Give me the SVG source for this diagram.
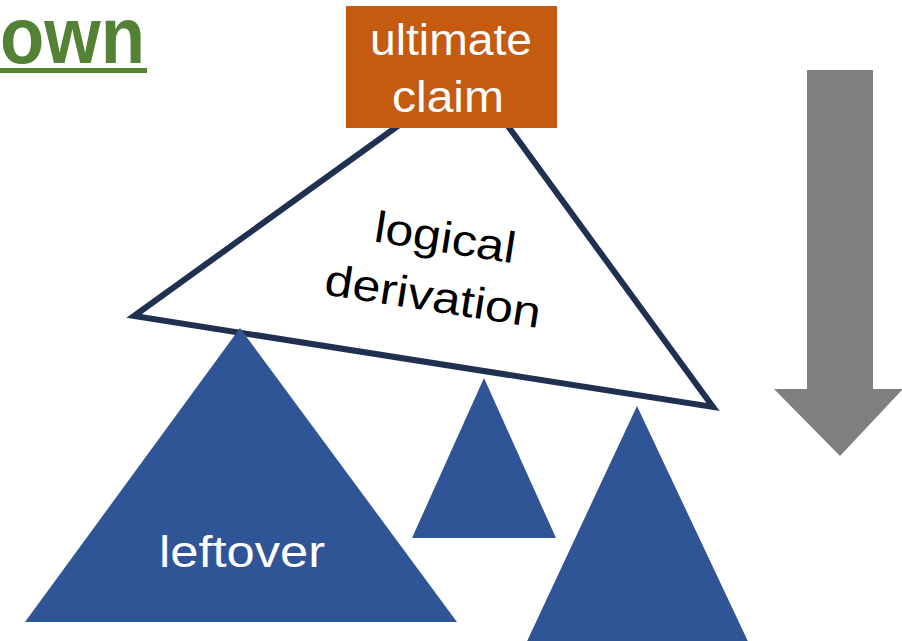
<svg xmlns="http://www.w3.org/2000/svg" width="902" height="641" viewBox="0 0 902 641">
  <style>
    .blue { fill: #2F5597; }
    .label { font-family: "Liberation Sans", Arial, sans-serif; font-size: 44px; text-anchor: middle; }
    .white { fill: #FFFFFF; }
    .dark { fill: #000000; }
  </style>
  <rect width="902" height="641" fill="#FFFFFF"/>

  <!-- heading fragment -->
  <g id="heading">
    <text x="0" y="63" font-family="Liberation Sans, Arial, sans-serif" font-weight="bold" font-size="80" fill="#548235" textLength="145" lengthAdjust="spacingAndGlyphs">own</text>
    <rect x="0" y="68" width="147" height="5" fill="#548235"/>
  </g>

  <!-- logical derivation outline triangle -->
  <g id="derivation">
    <polygon points="470,74 134,316 713,407" fill="#FFFFFF" stroke="#1F3050" stroke-width="6" stroke-linejoin="miter"/>
    <g transform="rotate(8.9 440 265)">
      <text class="label dark" x="441" y="252" textLength="142" lengthAdjust="spacingAndGlyphs">logical</text>
      <text class="label dark" x="438" y="312" textLength="218" lengthAdjust="spacingAndGlyphs">derivation</text>
    </g>
  </g>

  <!-- ultimate claim -->
  <g id="claim">
    <rect x="346" y="6" width="211" height="122" fill="#C55A11"/>
    <text class="label white" x="451" y="55" textLength="162" lengthAdjust="spacingAndGlyphs">ultimate</text>
    <text class="label white" x="448" y="112" textLength="112" lengthAdjust="spacingAndGlyphs">claim</text>
  </g>

  <!-- premise triangles -->
  <g id="leftover">
    <polygon class="blue" points="240,328 25,622 457,622"/>
    <text class="label white" x="242" y="567" textLength="166" lengthAdjust="spacingAndGlyphs">leftover</text>
  </g>
  <g id="premise-small">
    <polygon class="blue" points="484,378 412,538 556,538"/>
  </g>
  <g id="premise-right">
    <polygon class="blue" points="637,406 522,652 753,652"/>
  </g>

  <!-- direction arrow -->
  <g id="direction">
    <polygon points="807,70 873,70 873,389 903,389 840,456 774,389 807,389" fill="#7F7F7F"/>
  </g>
</svg>
